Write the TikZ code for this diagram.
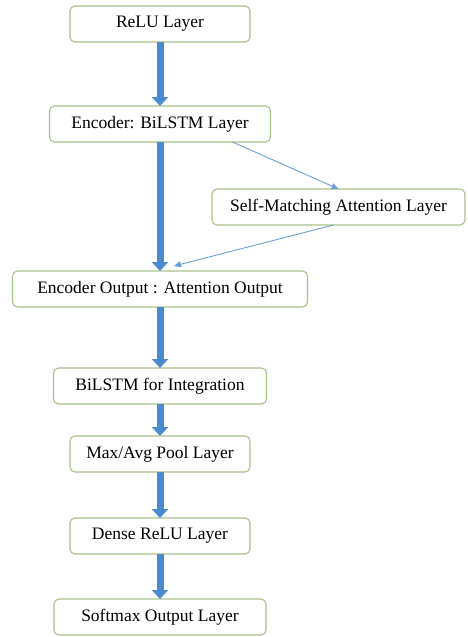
\documentclass[tikz,border=0pt]{standalone}
\usepackage{fontspec}
\setmainfont{Liberation Serif}
\usetikzlibrary{arrows.meta,positioning,calc}
\definecolor{boxgreen}{HTML}{A9C28A}
\definecolor{arrowblue}{HTML}{4A8BD0}
\definecolor{thinblue}{HTML}{6A9FD6}

\begin{document}
\begin{tikzpicture}[
  font=\fontsize{17.5}{20}\selectfont,
  layer/.style={draw=boxgreen,line width=1.1pt,rounded corners=5pt,fill=white,
    minimum height=36pt,inner sep=0pt,outer sep=0pt},
  big/.style={draw=arrowblue,line width=7pt,-{Triangle[width=16pt,length=9pt]},arrowblue},
  thin/.style={draw=thinblue,line width=0.9pt,-{Triangle[width=6pt,length=7pt]},thinblue}]
\useasboundingbox (0,0) rectangle (468pt,-637pt);
% main column
\node[layer,minimum width=180pt] (relu) at (160pt,-24pt) {ReLU Layer};
\node[layer,minimum width=221pt,below=64pt of relu] (enc) {Encoder: BiLSTM Layer};
\node[layer,minimum width=253pt] (selfm) at (338.5pt,-207pt) {Self-Matching Attention Layer};
\node[layer,minimum width=295pt,below=129pt of enc] (encout) {Encoder Output : Attention Output};
\node[layer,minimum width=213pt,below=61pt of encout] (integ) {BiLSTM for Integration};
\node[layer,minimum width=180pt,below=32pt of integ] (pool) {Max/Avg Pool Layer};
\node[layer,minimum width=180pt,below=46pt of pool] (dense) {Dense ReLU Layer};
\node[layer,minimum width=212pt,below=45pt of dense] (soft) {Softmax Output Layer};
% arrows
\foreach \x/\y in {relu/enc,enc/encout,encout/integ,integ/pool,pool/dense,dense/soft}
  \draw[big] (\x.south) -- (\y.north);
% attention branch
\coordinate (attin) at ($(encout.north)+(14pt,5pt)$);
\draw[thin] ($(enc.south east)+(-38pt,0)$) -- (selfm.north);
\draw[thin] ($(selfm.south)+(-5pt,0)$) -- (attin);
\end{tikzpicture}
\end{document}
